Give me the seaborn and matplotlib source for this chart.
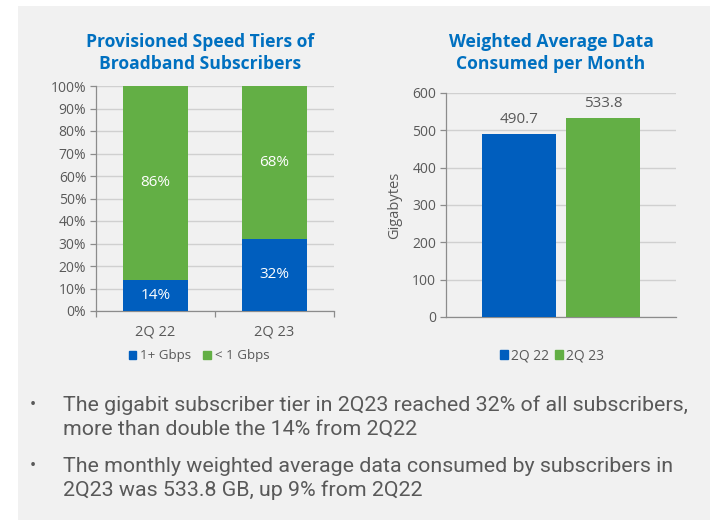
import matplotlib
matplotlib.use("Agg")
import matplotlib.pyplot as plt
import matplotlib.patches as mpatches
from matplotlib.ticker import FixedLocator, PercentFormatter
import seaborn as sns

# ---------- data ----------
tier_periods = ["2Q 22", "2Q 23"]
gig_share = [14, 32]        # 1+ Gbps
sub_gig_share = [86, 68]    # < 1 Gbps
tier_names = ["1+ Gbps", "< 1 Gbps"]

usage_periods = ["2Q 22", "2Q 23"]
usage_gb = [490.7, 533.8]

bullets = [
    ["The gigabit subscriber tier in 2Q23 reached 32% of all subscribers,",
     "more than double the 14% from 2Q22"],
    ["The monthly weighted average data consumed by subscribers in",
     "2Q23 was 533.8 GB, up 9% from 2Q22"],
]

# ---------- style ----------
BLUE = "#005EBE"
GREEN = "#63AF45"
TITLE = "#0070C0"
TEXT = "#595959"
GRID = "#D0D0D0"
AXIS = "#8C8C8C"
PANEL = "#F1F1F1"

sns.set_theme(style="white")
plt.rcParams["font.family"] = ["Open Sans", "DejaVu Sans"]
plt.rcParams["text.color"] = TEXT

W, H = 725, 528
fig = plt.figure(figsize=(W / 100, H / 100), dpi=100, facecolor="white")


def fx(px):
    return px / W


def fy(py):
    return 1 - py / H


fig.patches.append(mpatches.Rectangle((fx(18), fy(520)), fx(710) - fx(18), fy(6) - fy(520),
                                      transform=fig.transFigure, facecolor=PANEL,
                                      edgecolor="none", zorder=-5))


def style_axis(ax):
    ax.set_facecolor("none")
    for s in ["top", "right"]:
        ax.spines[s].set_visible(False)
    for s in ["left", "bottom"]:
        ax.spines[s].set_color(AXIS)
        ax.spines[s].set_linewidth(0.9)
    ax.yaxis.grid(True, color=GRID, linewidth=1.0)
    ax.set_axisbelow(True)
    ax.tick_params(axis="y", which="major", left=True, length=4, width=0.9, color=AXIS,
                   labelsize=10, labelcolor=TEXT, pad=3)
    ax.set_xlabel("")
    ax.set_ylabel("")


# ---------- left: stacked speed tiers ----------
ax1 = fig.add_axes([fx(96), fy(311), fx(334) - fx(96), fy(86) - fy(311)])
totals = [a + b for a, b in zip(gig_share, sub_gig_share)]
sns.barplot(x=tier_periods, y=totals, color=GREEN, width=0.55, saturation=1,
            linewidth=0, ax=ax1, zorder=2)
sns.barplot(x=tier_periods, y=gig_share, color=BLUE, width=0.55, saturation=1,
            linewidth=0, ax=ax1, zorder=3)
ax1.set_ylim(0, 100)
ax1.set_xlim(-0.5, 1.5)
ax1.set_yticks(range(0, 101, 10))
ax1.yaxis.set_major_formatter(PercentFormatter(decimals=0))
style_axis(ax1)
ax1.tick_params(axis="x", which="major", bottom=False, labelsize=10.5, labelcolor=TEXT, pad=4)
ax1.xaxis.set_minor_locator(FixedLocator([-0.5, 0.5, 1.5]))
ax1.tick_params(axis="x", which="minor", bottom=True, length=4, width=0.9, color=AXIS)

for i, (g, s) in enumerate(zip(gig_share, sub_gig_share)):
    ax1.text(i, g / 2, f"{g}%", ha="center", va="center", color="white", fontsize=11, zorder=5)
    ax1.text(i, g + s / 2, f"{s}%", ha="center", va="center", color="white", fontsize=11, zorder=5)

fig.text(fx(200), fy(53), "Provisioned Speed Tiers of\nBroadband Subscribers", ha="center",
         va="center", color=TITLE, fontsize=12.6, fontweight="bold", linespacing=1.25)

h1 = [mpatches.Patch(color=BLUE), mpatches.Patch(color=GREEN)]
fig.legend(h1, tier_names, loc="center", bbox_to_anchor=(fx(199), fy(356)), ncol=2,
           frameon=False, fontsize=9.6, handlelength=0.55, handleheight=0.55,
           handletextpad=0.3, columnspacing=0.9, labelcolor=TEXT)

# ---------- right: weighted average usage ----------
ax2 = fig.add_axes([fx(446), fy(317), fx(676) - fx(446), fy(93) - fy(317)])
sns.barplot(x=[""] * len(usage_periods), y=usage_gb, hue=usage_periods,
            palette=[BLUE, GREEN], width=0.73, gap=0.12, saturation=1,
            linewidth=0, legend=False, ax=ax2, zorder=3)
ax2.set_ylim(0, 600)
ax2.set_xlim(-0.5, 0.5)
ax2.set_yticks(range(0, 601, 100))
style_axis(ax2)
ax2.tick_params(axis="x", bottom=False, labelbottom=False)
ax2.set_ylabel("Gigabytes", fontsize=10.5, color=TEXT, labelpad=7)
for c in ax2.containers:
    ax2.bar_label(c, fmt="%.1f", padding=5, fontsize=11, color=TEXT)

fig.text(fx(551), fy(53), "Weighted Average Data\nConsumed per Month", ha="center",
         va="center", color=TITLE, fontsize=12.6, fontweight="bold", linespacing=1.25)

h2 = [mpatches.Patch(color=BLUE), mpatches.Patch(color=GREEN)]
fig.legend(h2, usage_periods, loc="center", bbox_to_anchor=(fx(552), fy(356)), ncol=2,
           frameon=False, fontsize=10, handlelength=0.55, handleheight=0.55,
           handletextpad=0.2, columnspacing=0.5, labelcolor=TEXT)

# ---------- bullets ----------
line_y = [[405, 429], [466, 490]]
for lines, ys in zip(bullets, line_y):
    fig.text(fx(33), fy(ys[0]), "•", ha="center", va="center", color=TEXT, fontsize=13,
             family=["Roboto", "DejaVu Sans"])
    for t, y in zip(lines, ys):
        fig.text(fx(63), fy(y), t, ha="left", va="center", color=TEXT, fontsize=15.4,
                 family=["Roboto", "DejaVu Sans"])

fig.savefig("out.png", dpi=100, facecolor="white")
